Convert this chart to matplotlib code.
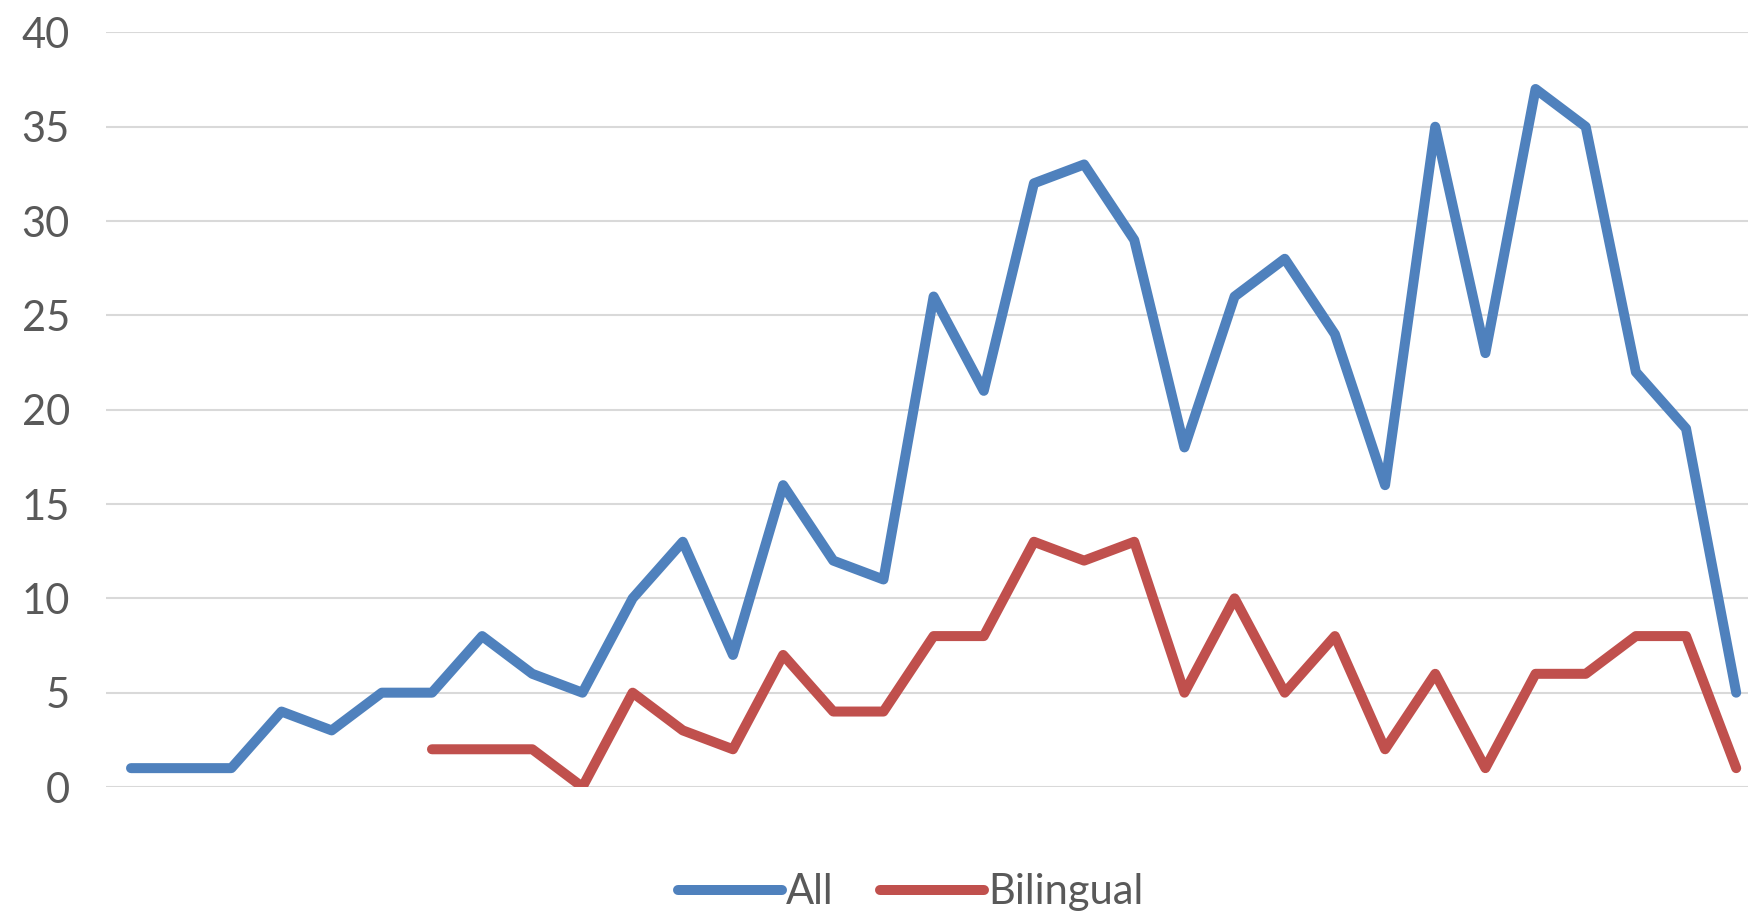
"""
All vs Bilingual counts
"""

import matplotlib
matplotlib.use("Agg")
import matplotlib.pyplot as plt
import numpy as np

plt.rcParams["font.family"] = ["Lato", "DejaVu Sans"]

all_counts = [1, 1, 1, 4, 3, 5, 5, 8, 6, 5, 10, 13, 7, 16, 12, 11, 26,
              21, 32, 33, 29, 18, 26, 28, 24, 16, 35, 23, 37, 35, 22, 19, 5]
bilingual_counts = [2, 2, 2, 0, 5, 3, 2, 7, 4, 4, 8, 8, 13, 12, 13, 5,
                    10, 5, 8, 2, 6, 1, 6, 6, 8, 8, 1]
bilingual_start = 6
y_ticks = [0, 5, 10, 15, 20, 25, 30, 35, 40]

x_all = np.arange(len(all_counts))
x_bil = np.arange(bilingual_start, bilingual_start + len(bilingual_counts))

fig = plt.figure(figsize=(17.48, 9.18), dpi=100)
# plot area runs slightly past the right edge, as in the cropped original
ax = fig.add_axes([0.0606, 0.1427, 0.947, 0.822])

ax.plot(x_all, all_counts, color="#4F81BD", lw=7.2,
        solid_capstyle="round", solid_joinstyle="round", label="All")
ax.plot(x_bil, bilingual_counts, color="#C0504D", lw=7.2,
        solid_capstyle="round", solid_joinstyle="round", label="Bilingual")

ax.set_xlim(-0.5, len(all_counts) - 0.5)
ax.set_ylim(0, 40)
ax.set_yticks(y_ticks)
ax.set_xticks([])
ax.grid(axis="y", color="#D9D9D9", lw=1.5)
ax.set_axisbelow(True)
for side in ax.spines.values():
    side.set_visible(False)
ax.tick_params(axis="y", length=0, pad=26, labelsize=30, labelcolor="#595959")

fig.legend(loc="center", bbox_to_anchor=(0.521, 0.028), ncol=2, frameon=False,
           fontsize=30, handlelength=2.5, handletextpad=0.1, columnspacing=1.1,
           labelcolor="#595959")

fig.savefig("out.png", dpi=100)
